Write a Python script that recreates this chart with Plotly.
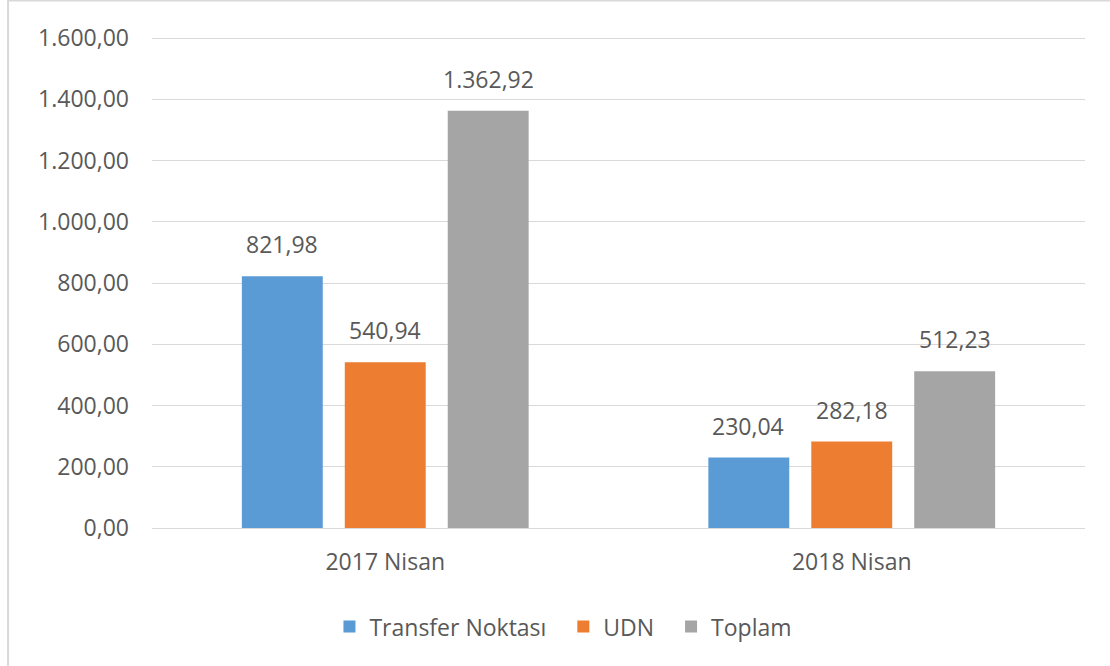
import plotly.graph_objects as go

categories = ["2017 Nisan", "2018 Nisan"]
series_names = ["Transfer Noktası", "UDN", "Toplam"]
transfer = [821.98, 230.04]
udn = [540.94, 282.18]
toplam = [1362.92, 512.23]
colors = ["#5B9BD5", "#ED7D31", "#A5A5A5"]
tick_values = [0, 200, 400, 600, 800, 1000, 1200, 1400, 1600]

FONT = "Open Sans"
TXT = "#595959"
FS = 23

def tr_fmt(v):
    s = f"{v:,.2f}"
    return s.replace(",", "X").replace(".", ",").replace("X", ".")

fig = go.Figure()
all_series = [transfer, udn, toplam]
pads = ["\u00a0\u00a0", "\u00a0\u00a0", ""]
for name, vals, col, pad in zip(series_names, all_series, colors, pads):
    fig.add_trace(go.Bar(x=categories, y=vals, name=name + pad, marker_color=col,
                         marker_line_width=0))

# data labels
offsets = [-103.5, 0, 103.5]
for vals, off in zip(all_series, offsets):
    for c, v in zip(categories, vals):
        fig.add_annotation(x=c, y=v, xref="x", yref="y", text=tr_fmt(v),
                           showarrow=False, xshift=off, yanchor="bottom", yshift=14,
                           font=dict(family=FONT, size=FS, color=TXT))

fig.add_shape(type="rect", xref="paper", yref="paper",
              x0=-0.1543, x1=1.04, y0=-0.32, y1=1.07,
              line=dict(color="#D9D9D9", width=2), fillcolor="rgba(0,0,0,0)", layer="below")

fig.update_layout(
    width=1110, height=666,
    margin=dict(l=152, r=25, t=35, b=138),
    paper_bgcolor="white", plot_bgcolor="white",
    barmode="group", bargap=0.338, bargroupgap=0.214,
    font=dict(family=FONT, size=FS, color=TXT),
    legend=dict(orientation="h", x=0.441, xanchor="center", y=-0.2, yanchor="middle",
                font=dict(family=FONT, size=FS, color=TXT)),
    showlegend=True,
)
fig.update_yaxes(range=[0, 1610], tickvals=tick_values,
                 ticktext=[tr_fmt(v) for v in tick_values],
                 showgrid=True, gridcolor="#D9D9D9", gridwidth=1,
                 zeroline=True, zerolinecolor="#D9D9D9", zerolinewidth=1,
                 showline=False, ticks="", ticklabelstandoff=22,
                 tickfont=dict(family=FONT, size=FS, color=TXT))
fig.update_xaxes(showgrid=False, showline=False, ticks="", ticklabelstandoff=18,
                 tickfont=dict(family=FONT, size=FS, color=TXT))

fig.write_html("out.html", config={"displayModeBar": False},
               post_script="document.body.style.margin='0';")
